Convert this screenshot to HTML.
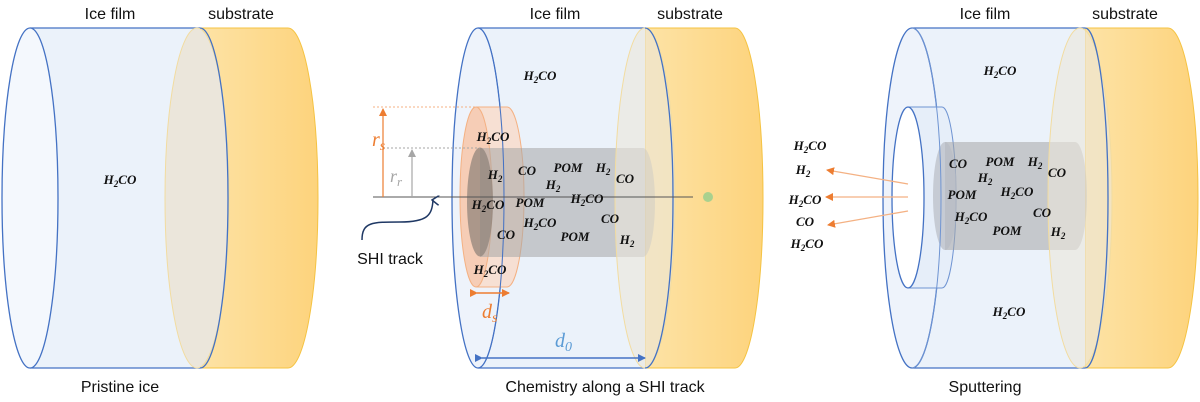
<!DOCTYPE html>
<html><head><meta charset="utf-8"><style>
html,body{margin:0;padding:0;background:#fff;}
svg{display:block}
.t{font-family:"Liberation Sans",sans-serif;font-size:16px;fill:#111;text-anchor:middle}
.m{font-family:"Liberation Serif",serif;font-style:italic;font-weight:bold;font-size:13px;fill:#111;text-anchor:middle}
</style></head><body>
<svg width="1200" height="402" viewBox="0 0 1200 402" xmlns="http://www.w3.org/2000/svg">
<defs>
<linearGradient id="sub" x1="0" x2="1"><stop offset="0" stop-color="#fde3a6"/><stop offset="1" stop-color="#fdd37c"/></linearGradient>
<marker id="ao" markerWidth="8" markerHeight="8" refX="7" refY="4" orient="auto" markerUnits="userSpaceOnUse"><path d="M0,0 L8,4 L0,8 z" fill="#ed7d31"/></marker>
<marker id="ag" markerWidth="8" markerHeight="8" refX="7" refY="4" orient="auto" markerUnits="userSpaceOnUse"><path d="M0,0 L8,4 L0,8 z" fill="#a6a6a6"/></marker>
<marker id="ab" markerWidth="8" markerHeight="8" refX="7" refY="4" orient="auto" markerUnits="userSpaceOnUse"><path d="M0,0 L8,4 L0,8 z" fill="#4472c4"/></marker>
<marker id="an" markerWidth="10" markerHeight="10" refX="5" refY="2" orient="auto" markerUnits="userSpaceOnUse"><path d="M0,8 L5,1 L10,8" fill="none" stroke="#1f3864" stroke-width="1.5"/></marker>
</defs>

<!-- Panel 1 -->
<path d="M197,28 L288,28 A30,170 0 0 1 288,368 L197,368 Z" fill="url(#sub)" stroke="#f5c342"/>
<rect x="30" y="28" width="170" height="340" fill="#ebf2fa"/>
<line x1="30" y1="28" x2="200" y2="28" stroke="#4472c4" stroke-width="1.3"/>
<line x1="30" y1="368" x2="200" y2="368" stroke="#4472c4" stroke-width="1.3"/>
<ellipse cx="30" cy="198" rx="28" ry="170" fill="#f4f8fd" stroke="#4472c4" stroke-width="1.3"/>
<ellipse cx="197" cy="198" rx="32" ry="170" fill="#ebe6db" stroke="#f2dca0" stroke-width="1"/>
<path d="M200,28 A28,170 0 0 1 200,368" fill="none" stroke="#4472c4" stroke-width="1.3"/>
<text class="m" x="120" y="184">H<tspan dy="3" font-size="9">2</tspan><tspan dy="-3">CO</tspan></text>
<text class="t" x="110" y="19">Ice film</text>
<text class="t" x="241" y="19">substrate</text>
<text class="t" x="120" y="392">Pristine ice</text>

<!-- Panel 2 -->
<path d="M645,28 L735,28 A28,170 0 0 1 735,368 L645,368 Z" fill="url(#sub)" stroke="#f5c342"/>
<rect x="478" y="28" width="167" height="340" fill="#ebf2fa"/>
<line x1="478" y1="28" x2="645" y2="28" stroke="#4472c4" stroke-width="1.3"/>
<line x1="478" y1="368" x2="645" y2="368" stroke="#4472c4" stroke-width="1.3"/>
<ellipse cx="478" cy="198" rx="26" ry="170" fill="#eef3fb" stroke="#4472c4" stroke-width="1.3"/>
<!-- orange cylinder -->
<path d="M476,107 L507,107 A17,90 0 0 1 507,287 L476,287 Z" fill="#f8dccb" fill-opacity="0.85" stroke="#f4b183"/>
<ellipse cx="476" cy="197" rx="16" ry="90" fill="#f6cdb6" stroke="#f4b183"/>
<!-- gray cylinder -->
<path d="M480,148 L643,148 A12,54.5 0 0 1 643,257 L480,257 Z" fill="#a6a6a6" opacity="0.55"/>
<ellipse cx="480" cy="202" rx="13" ry="54.5" fill="#8c8078" opacity="0.7"/>
<ellipse cx="645" cy="198" rx="30" ry="170" fill="#ebe6db" fill-opacity="0.6" stroke="#f2dca0"/>
<path d="M478,28 A26,170 0 0 1 478,368" fill="none" stroke="#4472c4" stroke-width="1"/>
<path d="M645,28 A28,170 0 0 1 645,368" fill="none" stroke="#4472c4" stroke-width="1.3"/>
<!-- axis -->
<line x1="373" y1="197" x2="693" y2="197" stroke="#555" stroke-width="1"/>
<circle cx="708" cy="197" r="5" fill="#a9d18e"/>
<line x1="373" y1="107" x2="476" y2="107" stroke="#f4b183" stroke-dasharray="2,2"/>
<line x1="383" y1="148" x2="480" y2="148" stroke="#a6a6a6" stroke-dasharray="2,2"/>
<line x1="383" y1="197" x2="383" y2="109" stroke="#ed7d31" stroke-width="1.2" marker-end="url(#ao)"/>
<line x1="412" y1="197" x2="412" y2="150" stroke="#a6a6a6" stroke-width="1.2" marker-end="url(#ag)"/>
<text x="372" y="146" font-family="Liberation Serif,serif" font-style="italic" font-size="20" fill="#ed7d31">r<tspan dy="4" font-size="14">s</tspan></text>
<text x="390" y="182" font-family="Liberation Serif,serif" font-style="italic" font-size="18" fill="#a6a6a6">r<tspan dy="4" font-size="13">r</tspan></text>
<path d="M362,240 C362,222 372,222 400,222 C428,222 432,215 433,200" fill="none" stroke="#1f3864" stroke-width="1.5" marker-end="url(#an)"/>
<text class="t" x="390" y="264">SHI track</text>
<line x1="477" y1="293" x2="509" y2="293" stroke="#ed7d31" stroke-width="1.5" marker-start="url(#ao)" marker-end="url(#ao)"/>
<text x="482" y="318" font-family="Liberation Serif,serif" font-style="italic" font-size="20" fill="#ed7d31">d<tspan dy="4" font-size="14">s</tspan></text>
<line x1="482" y1="358" x2="645" y2="358" stroke="#4472c4" stroke-width="1.5" marker-start="url(#ab)" marker-end="url(#ab)"/>
<text x="555" y="347" font-family="Liberation Serif,serif" font-style="italic" font-size="20" fill="#5b9bd5">d<tspan dy="4" font-size="14">0</tspan></text>
<g class="m">
<text x="540" y="80">H<tspan dy="3" font-size="9">2</tspan><tspan dy="-3">CO</tspan></text>
<text x="493" y="141">H<tspan dy="3" font-size="9">2</tspan><tspan dy="-3">CO</tspan></text>
<text x="495" y="179">H<tspan dy="3" font-size="9">2</tspan></text>
<text x="527" y="175">CO</text>
<text x="568" y="172">POM</text>
<text x="603" y="172">H<tspan dy="3" font-size="9">2</tspan></text>
<text x="625" y="183">CO</text>
<text x="553" y="189">H<tspan dy="3" font-size="9">2</tspan></text>
<text x="488" y="209">H<tspan dy="3" font-size="9">2</tspan><tspan dy="-3">CO</tspan></text>
<text x="530" y="207">POM</text>
<text x="587" y="203">H<tspan dy="3" font-size="9">2</tspan><tspan dy="-3">CO</tspan></text>
<text x="610" y="223">CO</text>
<text x="540" y="227">H<tspan dy="3" font-size="9">2</tspan><tspan dy="-3">CO</tspan></text>
<text x="506" y="239">CO</text>
<text x="575" y="241">POM</text>
<text x="627" y="244">H<tspan dy="3" font-size="9">2</tspan></text>
<text x="490" y="274">H<tspan dy="3" font-size="9">2</tspan><tspan dy="-3">CO</tspan></text>
</g>
<text class="t" x="555" y="19">Ice film</text>
<text class="t" x="690" y="19">substrate</text>
<text class="t" x="605" y="392">Chemistry along a SHI track</text>

<!-- Panel 3 -->
<path d="M1085,28 L1168,28 A30,170 0 0 1 1168,368 L1085,368 Z" fill="url(#sub)" stroke="#f5c342"/>
<rect x="912" y="28" width="173" height="340" fill="#ebf2fa"/>
<line x1="912" y1="28" x2="1085" y2="28" stroke="#4472c4" stroke-width="1.3"/>
<line x1="912" y1="368" x2="1085" y2="368" stroke="#4472c4" stroke-width="1.3"/>
<ellipse cx="912" cy="198" rx="29" ry="170" fill="#eef3fb" stroke="#4472c4" stroke-width="1.3"/>
<!-- hole tube -->
<path d="M908,107 L942,107 A14,90.5 0 0 1 942,288 L908,288 Z" fill="#e6eef9" stroke="#6f94d2"/>
<ellipse cx="908" cy="197.5" rx="16" ry="90.5" fill="#ffffff" stroke="#4472c4" stroke-width="1.3"/>
<path d="M945,142 L1075,142 A12,54 0 0 1 1075,250 L945,250 Z" fill="#a6a6a6" opacity="0.55"/>
<ellipse cx="945" cy="196" rx="12" ry="54" fill="#b8bcc4" opacity="0.7"/>
<ellipse cx="1080" cy="198" rx="32" ry="170" fill="#ebe6db" fill-opacity="0.6" stroke="#f2dca0"/>
<path d="M912,28 A29,170 0 0 1 912,368" fill="none" stroke="#6f94d2" stroke-width="1"/>
<path d="M1085,28 A23,170 0 0 1 1085,368" fill="none" stroke="#4472c4" stroke-width="1.3"/>
<line x1="908" y1="184" x2="827" y2="170" stroke="#f4b183" stroke-width="1.3" marker-end="url(#ao)"/>
<line x1="908" y1="197" x2="826" y2="197" stroke="#f4b183" stroke-width="1.3" marker-end="url(#ao)"/>
<line x1="908" y1="211" x2="828" y2="225" stroke="#f4b183" stroke-width="1.3" marker-end="url(#ao)"/>
<g class="m">
<text x="810" y="150">H<tspan dy="3" font-size="9">2</tspan><tspan dy="-3">CO</tspan></text>
<text x="803" y="174">H<tspan dy="3" font-size="9">2</tspan></text>
<text x="805" y="204">H<tspan dy="3" font-size="9">2</tspan><tspan dy="-3">CO</tspan></text>
<text x="805" y="226">CO</text>
<text x="807" y="248">H<tspan dy="3" font-size="9">2</tspan><tspan dy="-3">CO</tspan></text>
<text x="1000" y="75">H<tspan dy="3" font-size="9">2</tspan><tspan dy="-3">CO</tspan></text>
<text x="958" y="168">CO</text>
<text x="1000" y="166">POM</text>
<text x="1035" y="166">H<tspan dy="3" font-size="9">2</tspan></text>
<text x="1057" y="177">CO</text>
<text x="985" y="182">H<tspan dy="3" font-size="9">2</tspan></text>
<text x="962" y="199">POM</text>
<text x="1017" y="196">H<tspan dy="3" font-size="9">2</tspan><tspan dy="-3">CO</tspan></text>
<text x="971" y="221">H<tspan dy="3" font-size="9">2</tspan><tspan dy="-3">CO</tspan></text>
<text x="1042" y="217">CO</text>
<text x="1007" y="235">POM</text>
<text x="1058" y="236">H<tspan dy="3" font-size="9">2</tspan></text>
<text x="1009" y="316">H<tspan dy="3" font-size="9">2</tspan><tspan dy="-3">CO</tspan></text>
</g>
<text class="t" x="985" y="19">Ice film</text>
<text class="t" x="1125" y="19">substrate</text>
<text class="t" x="985" y="392">Sputtering</text>
</svg>
</body></html>
